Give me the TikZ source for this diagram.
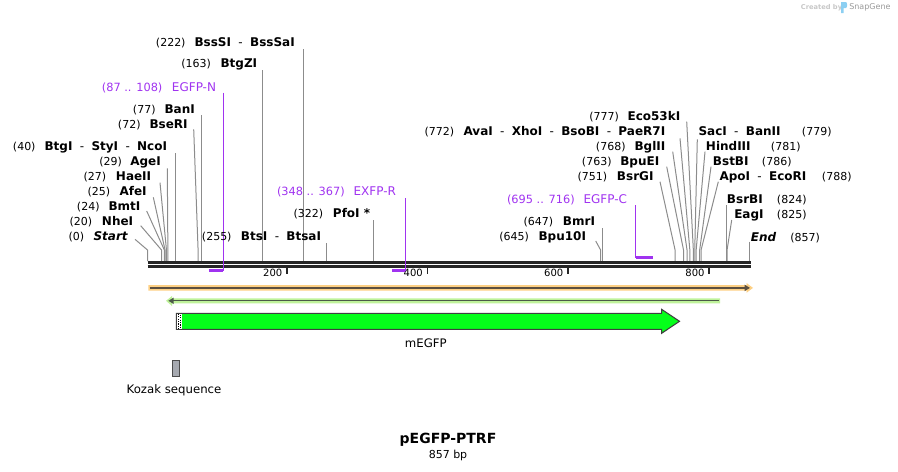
\documentclass[tikz,border=0pt]{standalone}
\usepackage{fontspec}
\setmainfont{DejaVu Sans}
\usetikzlibrary{arrows.meta}
\definecolor{primer}{HTML}{A033F0}
\definecolor{leadgray}{HTML}{8C8C8C}
\definecolor{dnablack}{HTML}{262626}
\definecolor{orangeband}{HTML}{FDD084}
\definecolor{orangeline}{HTML}{5C5040}
\definecolor{greenband}{HTML}{BFF29A}
\definecolor{greenline}{HTML}{4C5A48}
\definecolor{gfp}{HTML}{05FF1A}
\definecolor{kozakfill}{HTML}{A6A9B0}
\definecolor{snapblue}{HTML}{8CCFF2}
\newcommand\dsep{\hspace{5.5pt}{\mdseries -}\hspace{5.5pt}}
\begin{document}
\begin{tikzpicture}[x=0.75pt,y=-0.75pt,
  num/.style={font=\fontsize{8.25}{10}\selectfont, anchor=base west, inner sep=0pt},
  enz/.style={font=\fontsize{9}{11}\selectfont\bfseries, anchor=base west, inner sep=0pt},
  prim/.style={font=\fontsize{9}{11}\selectfont, text=primer, anchor=base west, inner sep=0pt},
  primnum/.style={font=\fontsize{8.5}{10}\selectfont, text=primer, anchor=base east, inner sep=0pt},
  leader/.style={draw=leadgray, line width=0.75pt},
  primline/.style={draw=primer, line width=0.9pt},
  primbar/.style={draw=primer, line width=1.6pt},
  dnaline/.style={draw=dnablack, line width=1.95pt},
  tickmark/.style={draw=dnablack, line width=1.3pt},
  ticklab/.style={font=\fontsize{7.5}{9}\selectfont, anchor=east, inner sep=0pt},
  featlab/.style={font=\fontsize{8.8}{10}\selectfont, inner sep=0pt},
]
\path[use as bounding box] (0,0) rectangle (898,471);

% reference point for top of the sequence line
\coordinate (dnatop) at (0,261);

% leader lines: id / start x / start y / cut x
\foreach \id/\sx/\sy/\cx in {
  0/135/239.3/147.5, 20/140.7/225.7/161.55, 24/146.7/211/164.36,
  25/153.3/197.3/165.06, 27/160/182.7/166.47, 29/167.3/168.3/167.87,
  40/175.6/153.3/175.6, 72/193.7/129.3/198.08, 77/201.59/115/201.59,
  163/262.01/70/262.01, 222/303.46/49/303.46, 255/326.64/243.3/326.64,
  322/373.71/220/373.71, 645/595.7/241/600.61, 647/602.02/228.3/602.02,
  751/660/181.7/675.08, 763/666.7/166.7/683.51, 768/672.7/151.7/687.02,
  772/680/138.3/689.83, 777/686.7/121.7/693.34, 779/697.3/139.3/694.75,
  781/705/151.7/696.15, 786/711/166.7/699.67, 788/718.3/181.7/701.07,
  824/726.36/205/726.36, 825/731.7/220/727.06, 857/749.54/241.7/749.54}{
  \coordinate (s\id) at (\sx,\sy);
  \coordinate (k\id) at (\cx,250);
  \draw[leader] (s\id) -- (k\id) -- (k\id |- dnatop);
}

% sequence line
\coordinate (dL1) at (147.5,262.3);
\coordinate (dR1) at (750.5,262.3);
\coordinate (dL2) at (147.5,266.3);
\coordinate (dR2) at (750.5,266.3);
\draw[dnaline] (dL1) -- (dR1);
\draw[dnaline] (dL2) -- (dR2);

% ticks
\foreach \t/\tx in {200/287, 400/427.5, 600/568, 800/709.3}{
  \coordinate (ta\t) at (\tx,267.3);
  \coordinate (tb\t) at (\tx,273.5);
  \draw[tickmark] (ta\t) -- (tb\t);
  \node[ticklab] (tl\t) at (\tx-4.5,273.3) {\t};
}

% primers
\coordinate (pnT) at (223.37,92.7);  \coordinate (pnB) at (223.37,270.5); \coordinate (pnL) at (208.62,270.5);
\coordinate (pxT) at (405.32,198.3); \coordinate (pxB) at (405.32,270.5); \coordinate (pxL) at (391.97,270.5);
\coordinate (pcT) at (635.74,205);   \coordinate (pcB) at (635.74,257.5); \coordinate (pcR) at (652.5,257.5);
\draw[primline] (pnT) -- (pnB);
\draw[primbar] (pnL) -- (pnB);
\draw[primline] (pxT) -- (pxB);
\draw[primbar] (pxL) -- (pxB);
\draw[primline] (pcT) -- (pcB);
\draw[primbar] (pcB) -- (pcR);

% left labels
\node[num] (n222) at (155.7,46.3) {(222)};
\node[enz] (e222) at (194.3,46.3) {BssSI\dsep BssSaI};
\node[num] (n163) at (181,67.3) {(163)};
\node[enz] (e163) at (220.3,67.3) {BtgZI};
\node[primnum] (pn1) at (162.7,91.3) {(87 .. 108)};
\node[prim] (pn2) at (171.7,91.3) {EGFP-N};
\node[num] (n77) at (132.7,113) {(77)};
\node[enz] (e77) at (164.3,113) {BanI};
\node[num] (n72) at (117.7,128.3) {(72)};
\node[enz] (e72) at (149.3,128.3) {BseRI};
\node[num] (n40) at (12.7,150.7) {(40)};
\node[enz] (e40) at (44.3,150.7) {BtgI\dsep StyI\dsep NcoI};
\node[num] (n29) at (99,165.7) {(29)};
\node[enz] (e29) at (130,165.7) {AgeI};
\node[num] (n27) at (83.3,180.7) {(27)};
\node[enz] (e27) at (115.7,180.7) {HaeII};
\node[num] (n25) at (87.3,195.7) {(25)};
\node[enz] (e25) at (119.3,195.7) {AfeI};
\node[num] (n24) at (76.7,210.7) {(24)};
\node[enz] (e24) at (108.3,210.7) {BmtI};
\node[num] (n20) at (69.3,225.7) {(20)};
\node[enz] (e20) at (101.7,225.7) {NheI};
\node[num] (n0) at (68.3,240.7) {(0)};
\node[enz] (e0) at (93.3,240.7) {\itshape Start};
\node[num] (n255) at (201.7,240.7) {(255)};
\node[enz] (e255) at (240.7,240.7) {BtsI\dsep BtsaI};
\node[num] (n322) at (293.3,217.3) {(322)};
\node[enz] (e322) at (332.7,217.3) {PfoI *};
\node[primnum] (px1) at (345,195.7) {(348 .. 367)};
\node[prim] (px2) at (353.3,195.7) {EXFP-R};

% right labels
\node[num] (n777) at (589,120.7) {(777)};
\node[enz] (e777) at (627.3,120.7) {Eco53kI};
\node[num] (n772) at (424.3,135.7) {(772)};
\node[enz] (e772) at (463.3,135.7) {AvaI\dsep XhoI\dsep BsoBI\dsep PaeR7I};
\node[num] (n768) at (595.7,150.7) {(768)};
\node[enz] (e768) at (634.3,150.7) {BglII};
\node[num] (n763) at (581.7,165.7) {(763)};
\node[enz] (e763) at (620,165.7) {BpuEI};
\node[num] (n751) at (577.3,180.7) {(751)};
\node[enz] (e751) at (616.7,180.7) {BsrGI};
\node[primnum] (pc1) at (575,203) {(695 .. 716)};
\node[prim] (pc2) at (583.3,203) {EGFP-C};
\node[num] (n647) at (523.3,225.7) {(647)};
\node[enz] (e647) at (562.7,225.7) {BmrI};
\node[num] (n645) at (499,240.7) {(645)};
\node[enz] (e645) at (538.3,240.7) {Bpu10I};
\node[enz] (e779) at (698.3,135.7) {SacI\dsep BanII};
\node[num] (n779) at (801.7,135.7) {(779)};
\node[enz] (e781) at (705.7,150.7) {HindIII};
\node[num] (n781) at (770.7,150.7) {(781)};
\node[enz] (e786) at (712.7,165.7) {BstBI};
\node[num] (n786) at (761.7,165.7) {(786)};
\node[enz] (e788) at (719.3,180.7) {ApoI\dsep EcoRI};
\node[num] (n788) at (821.7,180.7) {(788)};
\node[enz] (e824) at (726.7,203) {BsrBI};
\node[num] (n824) at (776.7,203) {(824)};
\node[enz] (e825) at (734,218) {EagI};
\node[num] (n825) at (776.7,218) {(825)};
\node[enz] (e857) at (750.7,241) {\itshape End};
\node[num] (n857) at (790,241) {(857)};

% orange feature (forward, full length)
\fill[orangeband] (148.3,285) -- (746.5,285) -- (746.5,283) -- (753,287.9) -- (746.5,292.8) -- (746.5,290.7) -- (148.3,290.7) -- cycle;
\coordinate (oL) at (149.5,287.9);
\coordinate (oR) at (750,287.9);
\draw[orangeline, line width=1pt, -{Triangle[length=4pt,width=4.5pt]}] (oL) -- (oR);

% green feature (reverse)
\fill[greenband] (166,300.8) -- (172,296) -- (172,298.3) -- (720,298.3) -- (720,303.3) -- (172,303.3) -- (172,306) -- cycle;
\coordinate (gL) at (168.3,300.8);
\coordinate (gR) at (718.5,300.8);
\draw[greenline, line width=1pt, -{Triangle[length=4pt,width=4.5pt]}] (gR) -- (gL);

% mEGFP arrow
\draw[fill=gfp, draw=black!75, line width=0.8pt] (176.5,313.3) -- (661.6,313.3) -- (661.6,309.3) -- (679.5,321.3) -- (661.6,333.3) -- (661.6,329.3) -- (176.5,329.3) -- cycle;
\fill[white] (177,313.8) rectangle (181.5,328.8);
\draw[black, line width=0.7pt, dash pattern=on 0.9pt off 0.9pt] (178.4,313.8) -- (178.4,328.8);
\draw[black, line width=0.7pt, dash pattern=on 0.9pt off 0.9pt] (180.6,314.7) -- (180.6,328.8);
\node[featlab] (megfp) at (425.8,343.3) {mEGFP};

% Kozak
\draw[fill=kozakfill, draw=black!70, line width=0.7pt] (172.7,360.7) rectangle (179.3,376);
\node[featlab] (kozak) at (174,390) {Kozak sequence};

% title
\node[font=\fontsize{10.5}{12}\selectfont\bfseries, inner sep=0pt] (title) at (448,440) {pEGFP-PTRF};
\node[font=\fontsize{8.25}{10}\selectfont, inner sep=0pt] (bp) at (448,455) {857 bp};

% SnapGene mark
\node[font=\fontsize{5}{6}\selectfont\bfseries, text=black!22, anchor=west, inner sep=0pt] (cby) at (800.7,7.5) {Created by};
\fill[snapblue] (841,2) -- (846,2) .. controls (847.5,2) and (847.5,8) .. (846,8) -- (843.5,8) -- (843.5,13) -- (841,13) -- cycle;
\node[font=\fontsize{6}{7}\selectfont, text=black!40, anchor=west, inner sep=0pt] (sg) at (849,7.5) {SnapGene};
\end{tikzpicture}
\end{document}
